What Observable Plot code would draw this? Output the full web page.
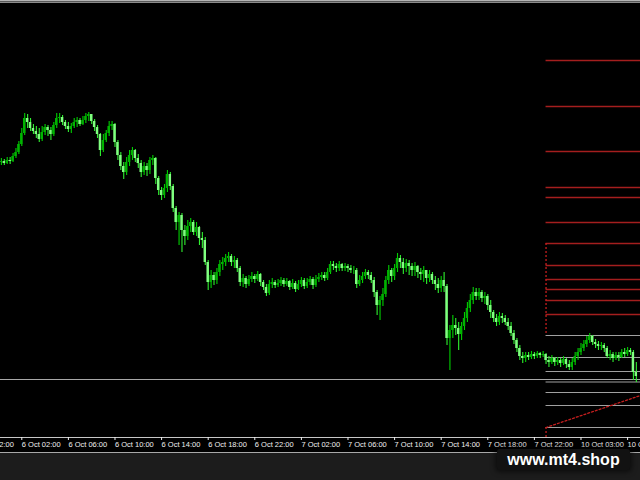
<!DOCTYPE html>
<html><head><meta charset="utf-8">
<script src="https://cdn.jsdelivr.net/npm/d3@7"></script>
<script src="https://cdn.jsdelivr.net/npm/@observablehq/plot@0.6"></script>
<style>
html,body{margin:0;padding:0;background:#1c1c1c;}
#wrap{position:relative;width:640px;height:480px;overflow:hidden;background:#1c1c1c;}
#chart{border-bottom:1px solid #a8a8a8;}
#chart svg{display:block;overflow:hidden;}
#topband{position:absolute;left:0;top:0;width:640px;height:3px;background:linear-gradient(#b4b4b4 0 1px,#5a5a5a 1px 2px,#8c8c8c 2px 3px);}
#mark{position:absolute;left:497px;top:449px;width:133px;height:21px;background:#121212;border-radius:3px;box-shadow:0 0 5px 2px rgba(0,0,0,.55);color:#fff;font:bold 16px "Liberation Sans",Arial,sans-serif;line-height:22px;text-align:center;}
</style></head>
<body>
<div id="wrap"><div id="chart"></div><div id="topband"></div><div id="mark">www.mt4.shop</div></div>
<script>
// M15 candles (price in arbitrary units), open = previous close
const firstOpen = 275;
const closes = [
276,274,277,276,281,285,293,304,319,315,
309,306,303,298,305,310,307,303,312,319,
320,315,311,308,311,315,317,313,317,321,
323,316,310,303,287,297,304,311,313,295,
282,271,265,275,282,287,279,274,265,271,
267,277,279,259,247,242,249,263,251,229,
215,222,207,201,211,215,205,210,199,197,
175,155,162,157,165,173,175,179,181,175,
177,169,155,159,153,158,161,158,163,155,
150,144,153,155,152,154,157,153,156,150,
154,148,153,157,151,155,158,152,158,160,
162,159,165,173,171,169,173,169,171,169,
167,167,153,157,161,165,162,157,145,132,
137,143,157,167,161,169,179,175,169,174,
171,167,171,165,163,167,159,163,157,153,
149,157,151,99,107,112,109,103,111,119,
129,137,145,141,145,139,141,132,125,119,
115,121,119,115,111,104,97,89,81,79,
82,80,83,81,84,82,83,77,75,79,
75,77,74,78,73,70,75,81,85,89,
93,97,101,95,93,91,92,89,81,83,
79,82,80,85,83,87,85,65,61];
const highs = [
279,278,280,280,284,289,296,309,324,323,
319,313,311,309,311,313,312,310,315,324,
324,322,317,315,314,319,320,319,321,324,
325,323,318,312,304,303,307,316,316,314,
297,285,275,280,287,290,288,283,277,275,
274,280,282,280,261,250,253,267,265,253,
231,225,224,212,217,219,217,215,211,205,
200,177,167,165,169,177,180,183,185,183,
181,179,171,163,161,162,165,163,166,164,
157,153,157,159,157,158,160,159,159,157,
158,156,157,160,159,159,161,160,162,164,
165,165,169,176,176,174,176,174,174,173,
172,171,169,162,165,168,167,165,160,147,
141,149,161,172,169,173,184,182,179,178,
177,174,175,172,169,171,167,167,165,161,
159,161,165,153,112,122,119,115,115,125,
135,143,150,149,149,147,145,143,137,127,
123,125,124,122,119,115,107,99,92,85,
85,85,86,85,86,85,86,84,81,82,
80,80,79,81,79,77,79,85,89,94,
97,101,104,102,98,96,95,94,91,87,
85,85,85,88,89,90,89,87,75];
const lows = [
272,272,273,273,275,279,283,291,302,309,
306,303,299,295,296,302,301,297,301,309,
314,312,308,305,304,309,310,311,312,314,
316,313,306,299,281,285,295,301,307,290,
277,267,258,262,271,277,275,269,260,262,
261,263,272,253,242,237,239,245,247,225,
207,192,185,192,197,205,202,201,192,189,
172,147,149,152,153,161,167,171,175,171,
169,165,151,150,149,151,155,154,156,151,
147,141,142,149,149,150,151,150,151,147,
148,145,147,150,148,149,152,148,150,155,
157,156,157,163,167,165,166,166,166,165,
164,163,149,151,154,158,158,154,140,122,
117,131,140,153,155,157,165,169,163,165,
162,161,161,159,157,155,153,155,153,147,
144,145,145,92,67,99,102,87,97,107,
115,125,133,137,137,135,133,127,119,115,
111,112,114,112,107,101,93,85,77,74,
75,77,78,78,79,79,80,73,70,73,
71,72,70,72,69,67,67,72,77,82,
86,90,94,92,89,87,87,85,79,77,
75,77,76,79,80,81,82,57,55];

const tickBars = [-9,7,23,39,55,71,87,103,119,135,151,167,183,199,215];
const tickLabels = ["5 Oct 22:00","6 Oct 02:00","6 Oct 06:00","6 Oct 10:00","6 Oct 14:00","6 Oct 18:00","6 Oct 22:00","7 Oct 02:00","7 Oct 06:00","7 Oct 10:00","7 Oct 14:00","7 Oct 18:00","7 Oct 22:00","10 Oct 03:00","10 Oct 07:00"];

const redLevels = [377,331,286,250,240,215,194,172,158,148,137,123];
const grayLevels = [102,80,66,55.5,45,32,10];
const fullLevel = 58;
const levelStartBar = 187;
const dottedSegments = [[194,102],[10,0]];
const trendBars = [187, 219.43];
const trendPrices = [10, 42];

const xDomain = [-0.31, 219.43];
const candles = closes.map((c, i) => {
  const o = i ? closes[i-1] : firstOpen;
  return {i, o, c, h: Math.max(highs[i], o, c), l: Math.min(lows[i], o, c), up: c >= o};
});
const bulls = candles.filter(d => d.up), bears = candles.filter(d => !d.up);
const labelOf = new Map(tickBars.map((b, k) => [b, tickLabels[k]]));
const trend = trendBars.map((b, k) => ({bar: b, price: trendPrices[k]}));

const chart = Plot.plot({
  width: 640, height: 452,
  marginTop: 4, marginBottom: 15, marginLeft: 0, marginRight: 0,
  style: {background: "#000", fontFamily: "'Liberation Sans', Arial, sans-serif", overflow: "hidden"},
  x: {domain: xDomain, axis: null},
  y: {domain: [0, 433], axis: null},
  marks: [
    Plot.ruleY(redLevels, {y: d => d, x1: () => levelStartBar, x2: () => xDomain[1], stroke: "#a41e1e", strokeWidth: 1.3}),
    Plot.ruleY(grayLevels, {y: d => d, x1: () => levelStartBar, x2: () => xDomain[1], stroke: "#a0a0a0", strokeWidth: 1.2}),
    Plot.ruleY([fullLevel], {stroke: "#a8a8a8", strokeWidth: 1.2}),
    Plot.ruleX(dottedSegments, {x: () => levelStartBar, y1: d => d[0], y2: d => d[1], stroke: "#c41e1e", strokeWidth: 1.3, strokeDasharray: "2,2"}),
    Plot.line(trend, {x: "bar", y: "price", stroke: "#c41e1e", strokeWidth: 1.3, strokeDasharray: "2,2"}),
    Plot.ruleX(bulls, {x: "i", y1: "l", y2: "h", stroke: "#00d000", strokeWidth: 1.1}),
    Plot.ruleX(bears, {x: "i", y1: "l", y2: "h", stroke: "#30f030", strokeWidth: 1.1}),
    Plot.rect(bulls, {x1: d => d.i - 0.42, x2: d => d.i + 0.42, y1: "o", y2: "c", fill: "#00b400"}),
    Plot.rect(bears, {x1: d => d.i - 0.42, x2: d => d.i + 0.42, y1: "o", y2: "c", fill: "#80ff80"}),
    Plot.ruleY([0], {stroke: "#c8c8c8", strokeWidth: 1}),
    Plot.axisX(tickBars, {tickSize: 3, tickPadding: 1.5, tickFormat: d => labelOf.get(d), textAnchor: "start", fontSize: 7.5, color: "#f0f0f0", dx: 0})
  ]
});
document.getElementById("chart").appendChild(chart);
</script>
</body></html>
